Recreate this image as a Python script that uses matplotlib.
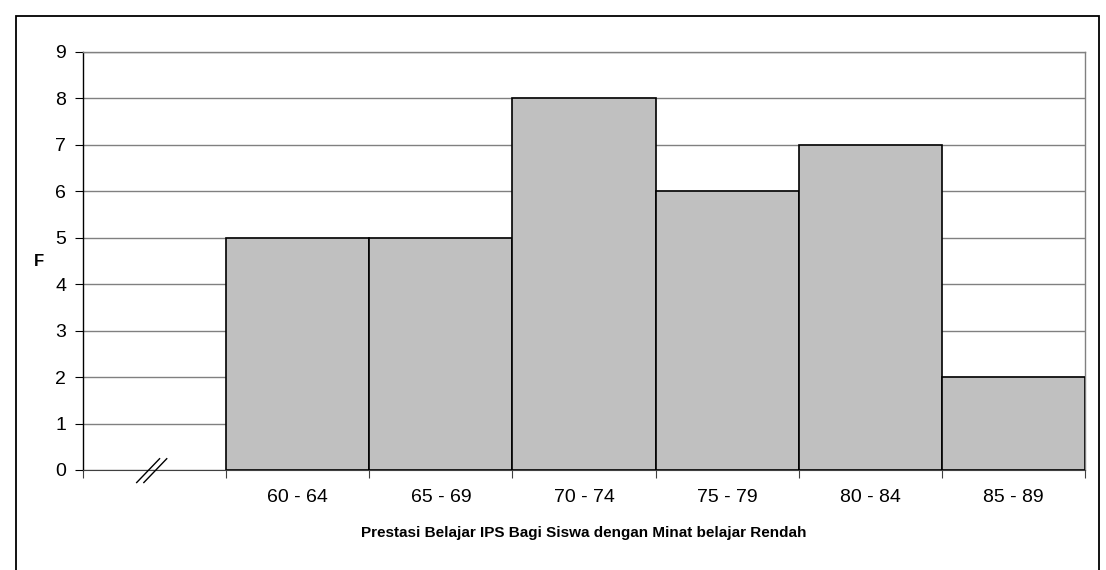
import matplotlib.pyplot as plt
import matplotlib.patches as patches
import numpy as np

# data
categories = ["", "60 - 64", "65 - 69", "70 - 74", "75 - 79", "80 - 84", "85 - 89"]
freq = [0, 5, 5, 8, 6, 7, 2]
yticks = list(range(0, 10))

plt.rcParams["font.family"] = ["Liberation Sans", "DejaVu Sans"]

fig = plt.figure(figsize=(11.06, 5.70), dpi=100)
fig.patch.set_facecolor("white")

# outer frame of the chart area
frame = patches.Rectangle((16 / 1106, -0.02), (1099 - 16) / 1106, 1 - 16 / 570 + 0.02,
                          transform=fig.transFigure, fill=False, edgecolor="black",
                          linewidth=1.3, zorder=0)
fig.patches.append(frame)

ax = fig.add_axes([83 / 1106, 1 - 470 / 570, (1085 - 83) / 1106, (470 - 52) / 570])

x = np.arange(len(categories))
ax.bar(x[1:], freq[1:], width=1.0, color="#c0c0c0", edgecolor="black", linewidth=1.2, zorder=3)

ax.set_xlim(-0.5, len(categories) - 0.5)
ax.set_ylim(0, 9)
ax.set_yticks(yticks)
ax.tick_params(axis="y", labelsize=14, length=6, width=0.8, pad=6, direction="out")

# category labels centered, ticks on category boundaries
ax.set_xticks(np.arange(len(categories) + 1) - 0.5)
ax.set_xticklabels([])
ax.set_xticks(x, labels=categories, minor=True)
ax.tick_params(axis="x", which="major", length=6, width=0.8, color="#404040")
ax.tick_params(axis="x", which="minor", length=0, labelsize=14, pad=14)

ax.yaxis.grid(True, color="#808080", linewidth=1.0, zorder=0)
ax.set_axisbelow(True)
for side in ["top", "right"]:
    ax.spines[side].set_color("#808080")
    ax.spines[side].set_linewidth(1.0)
ax.spines["left"].set_linewidth(1.0)
ax.spines["bottom"].set_color("#404040")

ax.set_ylabel("F", fontsize=12, fontweight="bold", rotation=0, labelpad=12, va="center")
ax.set_xlabel("Prestasi Belajar IPS Bagi Siswa dengan Minat belajar Rendah",
              fontsize=11, fontweight="bold", labelpad=14)

# axis break mark
trans = ax.get_xaxis_transform()
for dx in (-0.025, 0.025):
    ax.plot([-0.1 + dx, 0.06 + dx], [-0.03, 0.027], color="black", linewidth=1.0,
            transform=trans, clip_on=False, zorder=5)

fig.savefig("out.png", dpi=100)
